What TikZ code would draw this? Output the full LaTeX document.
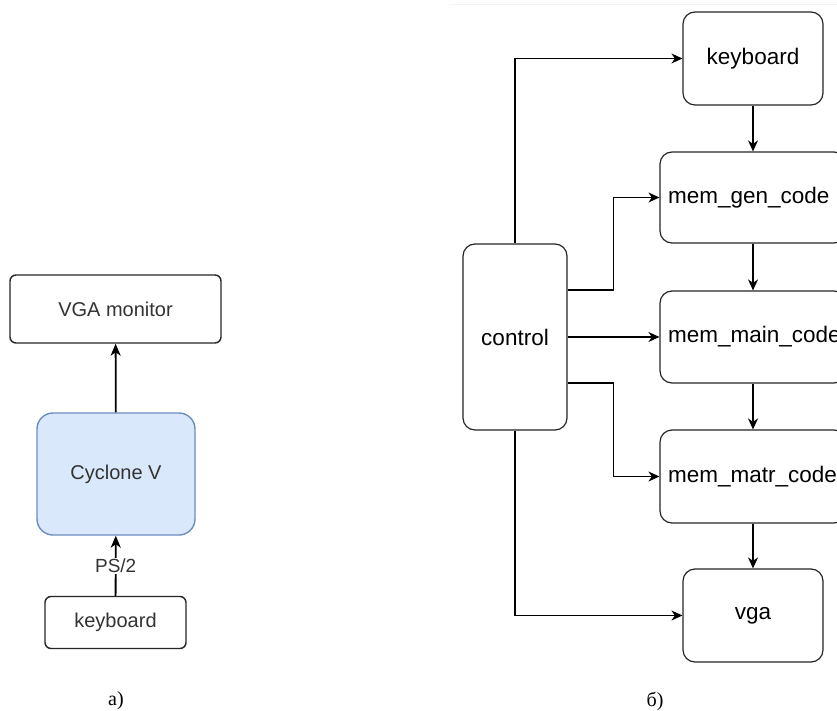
\documentclass[tikz,border=0pt]{standalone}
\usepackage{fontspec}
\setmainfont{Liberation Sans}
\newfontfamily\capfont{Liberation Serif}
\usetikzlibrary{arrows.meta}

\definecolor{cycfill}{HTML}{DAE8FC}
\definecolor{cycdraw}{HTML}{6C8EBF}
\definecolor{txtgray}{HTML}{333333}

\tikzstyle{box} = [rectangle, rounded corners=6pt, draw = black!85, line width=1.4pt, text = txtgray, text centered, font=\fontsize{20}{24}\selectfont]
\tikzstyle{chip} = [rectangle, rounded corners=16pt, fill = cycfill, draw = cycdraw, line width=1.4pt, text = txtgray, text centered, font=\fontsize{20}{24}\selectfont]
\tikzstyle{rec} = [rectangle, rounded corners=12pt, draw = black!85, line width=1.2pt, text centered, font=\fontsize{22.5}{27}\selectfont]
\tikzstyle{mem} = [rec, text width=170pt, inner xsep=8pt, align=left]
\tikzstyle{arrow} = [line width=1.2pt, -{Stealth[length=11pt, width=10pt, inset=3.5pt]}, draw = black]
\tikzstyle{arrow1} = [line width=1.8pt, -{Stealth[length=12pt, width=10pt, inset=3.5pt]}, draw = black]
\tikzstyle{subcap} = [font=\capfont\fontsize{20}{24}\selectfont]

\begin{document}
\begin{tikzpicture}[x=1pt, y=-1pt]
    \useasboundingbox (0,0) rectangle (837,711);
    \clip (0,0) rectangle (837,711);
    \fill[white] (0,0) rectangle (837,711);
    % a)
    \node(monitor)[box, minimum width=211pt, minimum height=68pt] at (115.5,309) {VGA monitor};
    \node(cyclone)[chip, minimum width=158pt, minimum height=122pt] at (116,474) {Cyclone V};
    \node(kbd)[box, minimum width=141pt, minimum height=52pt] at (115.5,622.5) {keyboard};
    \draw[arrow1] (cyclone) -- (monitor);
    \draw[arrow1] (kbd) -- (cyclone) node[midway, fill=white, inner sep=1pt, text=txtgray, font=\fontsize{19}{23}\selectfont] {PS/2};
    \node(capa)[subcap] at (116,701) {а)};
    % b)
    \draw[gray!10, line width=1pt] (449,5) -- (837,5);
    \node(keyboard)[rec, minimum width=140pt, minimum height=93pt] at (753,58.5) {keyboard};
    \node(memgen)[mem, minimum height=91pt] at (753,197.5) {\mbox{mem\_gen\_code}};
    \node(memmain)[mem, minimum height=92pt] at (753,337) {\mbox{mem\_main\_code}};
    \node(memmatr)[mem, minimum height=93pt] at (753,476.5) {\mbox{mem\_matr\_code}};
    \node(vga)[rec, minimum width=140pt, minimum height=93pt] at (753,615.5) {vga};
    \node(control)[rec, minimum width=104pt, minimum height=186pt] at (515,337) {control};
    \node(capb)[subcap] at (655,701) {б)};
    \draw[arrow] (keyboard) -- (memgen);
    \draw[arrow] (memgen) -- (memmain);
    \draw[arrow] (memmain) -- (memmatr);
    \draw[arrow] (memmatr) -- (vga);
    \draw[arrow] (control.north) |- (keyboard.west);
    \draw[arrow] ([yshift=47pt]control.east) -- ++(46,0) |- (memgen.west);
    \draw[arrow] (control) -- (memmain);
    \draw[arrow] ([yshift=-46pt]control.east) -- ++(46,0) |- (memmatr.west);
    \draw[arrow] (control.south) |- (vga.west);
\end{tikzpicture}
\end{document}
